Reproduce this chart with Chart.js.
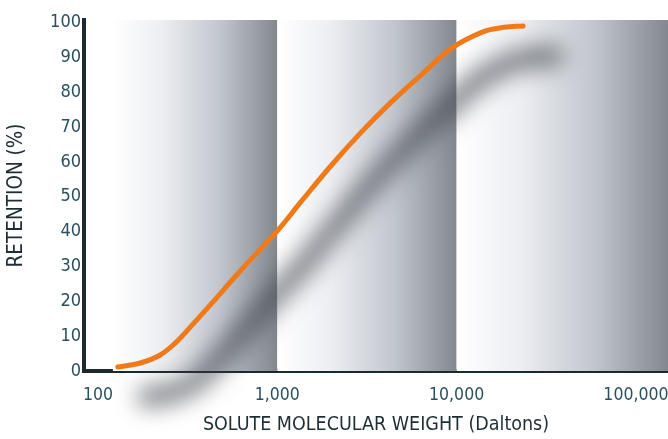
<!DOCTYPE html>
<html><head><meta charset="utf-8">
<script src="https://cdn.jsdelivr.net/npm/chart.js@4.4.1/dist/chart.umd.min.js"></script>
<style>html,body{margin:0;padding:0;background:#fff;overflow:hidden;}#wrap{width:668px;height:439px;}</style>
</head><body><div id="wrap"><canvas id="c" width="668" height="439"></canvas></div>
<script>
// ---- data ----
const molecularWeight = [129, 172, 222, 273, 327, 422, 621, 1000, 1353, 2009, 2950, 4330, 6430, 9435, 14030, 18400, 23480];
const retention = [1.15, 2.3, 4.6, 8.3, 12.6, 18.9, 28.7, 40.2, 48.5, 59.1, 68.6, 77.2, 85.2, 92.7, 97.3, 98.6, 99.0];
const xTickValues = [100, 1000, 10000, 100000];
const xTickLabels = ['100', '1,000', '10,000', '100,000'];
const yTickValues = [0, 10, 20, 30, 40, 50, 60, 70, 80, 90, 100];
const bandStarts = [121, 1000, 10000];
const bandEnds = [1000, 10000, 151000];

const FONT = "'DejaVu Sans Condensed', 'Liberation Sans Narrow', sans-serif";
const TICK_COLOR = '#28505e';
const TITLE_COLOR = '#1d2e35';
const AXIS_COLOR = '#1b2a30';

const backdropPlugin = {
  id: 'backdrop',
  beforeDatasetsDraw(chart) {
    const {ctx, chartArea} = chart;
    const xs = chart.scales.x;
    ctx.save();
    for (let i = 0; i < bandStarts.length; i++) {
      const x0 = xs.getPixelForValue(bandStarts[i]);
      const x1 = Math.min(xs.getPixelForValue(bandEnds[i]), chartArea.right);
      const g = ctx.createLinearGradient(x0, 0, x1, 0);
      g.addColorStop(0, '#ffffff');
      g.addColorStop(0.3, '#eceef2');
      g.addColorStop(0.65, '#c2c6cd');
      g.addColorStop(1, '#83888f');
      ctx.fillStyle = g;
      ctx.fillRect(x0, chartArea.top, x1 - x0, chartArea.bottom - chartArea.top);
    }
    // soft drop shadow of the curve
    const pts = chart.getDatasetMeta(0).data;
    ctx.filter = 'blur(11px)';
    ctx.translate(30, 30);
    ctx.strokeStyle = 'rgba(55,58,66,0.6)';
    ctx.lineWidth = 22;
    ctx.lineCap = 'round';
    ctx.beginPath();
    ctx.moveTo(pts[0].x, pts[0].y);
    for (let i = 1; i < pts.length; i++) {
      const p = pts[i - 1], q = pts[i];
      ctx.bezierCurveTo(p.cp2x, p.cp2y, q.cp1x, q.cp1y, q.x, q.y);
    }
    ctx.stroke();
    ctx.restore();
  }
};

new Chart(document.getElementById('c'), {
  type: 'line',
  data: {
    datasets: [{
      data: molecularWeight.map((v, i) => ({x: v, y: retention[i]})),
      borderColor: '#f07a1a',
      borderWidth: 5,
      borderCapStyle: 'round',
      pointRadius: 0,
      tension: 0.4,
      fill: false,
      clip: false
    }]
  },
  options: {
    responsive: false,
    devicePixelRatio: 1,
    animation: false,
    layout: {padding: {top: 20, right: 0, left: 0, bottom: 0}},
    plugins: {legend: {display: false}, tooltip: {enabled: false}},
    scales: {
      x: {
        type: 'logarithmic',
        min: 83.5,
        max: 151000,
        z: 1,
        grid: {display: false, drawTicks: false},
        border: {display: true, color: AXIS_COLOR, width: 4},
        afterBuildTicks(s) { s.ticks = xTickValues.map(v => ({value: v})); },
        afterFit(s) { s.height = 68; s.paddingLeft = 0; s.paddingRight = 0; },
        ticks: {
          autoSkip: false,
          maxRotation: 0,
          padding: 14,
          color: TICK_COLOR,
          font: {family: FONT, size: 17.5},
          callback(v) { const i = xTickValues.indexOf(v); return i >= 0 ? xTickLabels[i] : ''; }
        },
        title: {
          display: true,
          text: 'SOLUTE MOLECULAR WEIGHT (Daltons)',
          color: TITLE_COLOR,
          font: {family: FONT, size: 19.5},
          padding: {top: 0, bottom: 2}
        }
      },
      y: {
        type: 'linear',
        min: 0,
        max: 100.7,
        z: 1,
        grid: {display: false, drawTicks: false},
        border: {display: true, color: AXIS_COLOR, width: 4},
        afterBuildTicks(s) { s.ticks = yTickValues.map(v => ({value: v})); },
        afterFit(s) { s.width = 84; s.paddingTop = 0; s.paddingBottom = 0; },
        ticks: {
          padding: 3,
          color: TICK_COLOR,
          font: {family: FONT, size: 18}
        },
        title: {
          display: true,
          text: 'RETENTION (%)',
          color: TITLE_COLOR,
          font: {family: FONT, size: 20.5},
          padding: {top: 4, bottom: 0}
        }
      }
    }
  },
  plugins: [backdropPlugin]
});
</script>
</body></html>
